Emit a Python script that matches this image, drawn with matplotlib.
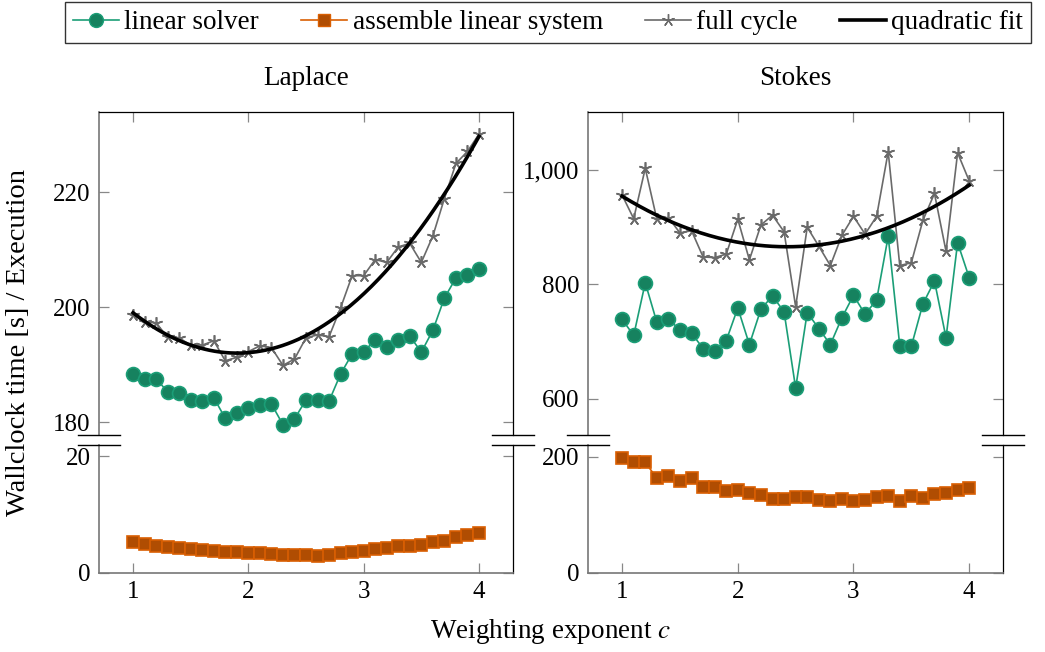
import matplotlib.pyplot as plt
import numpy as np
from matplotlib.lines import Line2D
from matplotlib.ticker import StrMethodFormatter

plt.rcParams['font.family'] = ['Liberation Serif', 'DejaVu Serif']
plt.rcParams['mathtext.fontset'] = 'stix'

# weighting exponent c
c = [1.0, 1.1, 1.2, 1.3, 1.4, 1.5, 1.6, 1.7, 1.8, 1.9, 2.0,
     2.1, 2.2, 2.3, 2.4, 2.5, 2.6, 2.7, 2.8, 2.9, 3.0,
     3.1, 3.2, 3.3, 3.4, 3.5, 3.6, 3.7, 3.8, 3.9, 4.0]

# Laplace
lap_solver = [188.4, 187.5, 187.6, 185.3, 185.1, 183.8, 183.7, 184.3, 180.7, 181.6, 182.5,
              183.1, 183.2, 179.6, 180.6, 183.9, 183.9, 183.7, 188.4, 191.9, 192.3,
              194.3, 193.1, 194.4, 195.0, 192.2, 196.0, 201.6, 205.1, 205.7, 206.7]
lap_assemble = [5.2, 4.9, 4.6, 4.4, 4.2, 4.0, 3.9, 3.8, 3.6, 3.5, 3.4,
                3.3, 3.2, 3.1, 3.0, 3.0, 2.9, 3.1, 3.4, 3.5, 3.8,
                4.0, 4.2, 4.6, 4.6, 4.8, 5.2, 5.5, 6.2, 6.4, 6.8]
lap_full = [198.7, 197.5, 197.3, 194.8, 194.7, 193.4, 193.4, 194.2, 190.7, 191.3, 192.3,
            193.3, 193.0, 189.9, 191.0, 194.7, 195.2, 194.9, 199.9, 205.5, 205.5,
            208.3, 207.8, 210.5, 211.1, 207.8, 212.4, 218.9, 225.0, 227.1, 230.1]

# Stokes
sto_solver = [739, 711, 803, 734, 740, 720, 715, 688, 684, 702, 759,
              695, 757, 780, 752, 619, 751, 723, 695, 742, 781,
              748, 773, 884, 693, 692, 766, 806, 707, 873, 812]
sto_assemble = [198, 191, 190, 163, 166, 158, 163, 148, 147, 141, 143,
                137, 133, 127, 127, 131, 130, 125, 124, 127, 123,
                125, 131, 132, 124, 132, 128, 135, 137, 143, 146]
sto_full = [956, 915, 1003, 914, 917, 890, 894, 848, 847, 853, 914,
            843, 904, 921, 892, 761, 900, 867, 833, 886, 919,
            888, 919, 1032, 833, 838, 912, 959, 858, 1030, 981]

GREEN, GREEN_D = '#1b9e77', '#16825f'
ORANGE, ORANGE_D = '#d95f02', '#b04d02'
GRAY = '#6a6a6a'
FS = 18      # tick labels
FT = 19.5    # titles, legend, axis labels
W, H = 1045, 652

fig = plt.figure(figsize=(W / 100, H / 100), dpi=100)


def fx(px):
    return px / W


def fy(py):
    return 1 - py / H


def style(ax, top, bottom):
    ax.set_xlim(0.705, 4.295)
    ax.set_xticks([1, 2, 3, 4])
    for s in ['left', 'bottom']:
        ax.spines[s].set_color('#777777')
        ax.spines[s].set_linewidth(1.2)
    for s in ['right', 'top']:
        ax.spines[s].set_color('black')
        ax.spines[s].set_linewidth(0.9)
    ax.spines['top'].set_visible(top)
    ax.spines['bottom'].set_visible(bottom)
    ax.tick_params(axis='both', direction='in', length=7, width=0.9,
                   color='#888888', labelsize=FS, right=True, top=top, bottom=bottom,
                   labelbottom=bottom, pad=6)
    for t in ax.yaxis.get_major_ticks():
        t.tick2line.set_color('#bbbbbb')
    ax.set_facecolor('none')


def panel(left_px, right_px, title, solver, assemble, full, ylim_up, yt_up, ylim_lo, yt_lo, fmt):
    x0, wd = fx(left_px), fx(right_px - left_px)
    up = fig.add_axes([x0, fy(435), wd, fy(112.3) - fy(435)])
    lo = fig.add_axes([x0, fy(572.7), wd, fy(445) - fy(572.7)])

    up.plot(c, full, color=GRAY, lw=1.2, marker=(5, 2, 0), ms=9, mew=1.2, zorder=3)
    up.plot(c, solver, color=GREEN, lw=1.2, marker='o', ms=10,
            mfc=GREEN_D, mec=GREEN, mew=1.2, zorder=3)
    coef = np.polyfit(c, full, 2)
    xs = np.linspace(c[0], c[-1], 200)
    up.plot(xs, np.polyval(coef, xs), color='black', lw=2.6, zorder=4)
    lo.plot(c, assemble, color=ORANGE, lw=1.2, marker='s', ms=8.5,
            mfc=ORANGE_D, mec=ORANGE, mew=1.2, zorder=3)

    up.set_ylim(*ylim_up)
    up.set_yticks(yt_up)
    lo.set_ylim(*ylim_lo)
    lo.set_yticks(yt_lo)
    if fmt:
        up.yaxis.set_major_formatter(StrMethodFormatter('{x:,.0f}'))
    style(up, True, False)
    style(lo, False, True)
    up.set_title(title, fontsize=FT, pad=20)

    # axis break marks
    for sx in (left_px, right_px):
        for by in (435, 445.3):
            fig.add_artist(Line2D([fx(sx - 21), fx(sx + 21)], [fy(by), fy(by)],
                                  color='black', lw=1.0))
    return up, lo


panel(99, 513, 'Laplace', lap_solver, lap_assemble, lap_full,
      (177.8, 233.9), [180, 200, 220], (0, 21.9), [0, 20], False)
panel(588, 1003.3, 'Stokes', sto_solver, sto_assemble, sto_full,
      (537, 1100.8), [600, 800, 1000], (0, 220), [0, 200], True)

fig.text(fx(19), fy(342), 'Wallclock time [s] / Execution', rotation=90,
         ha='center', va='center', fontsize=20.5)
fig.text(fx(551), fy(632), 'Weighting exponent $c$', ha='center', va='center',
         fontsize=FT)

handles = [
    Line2D([], [], color=GREEN, lw=1.2, marker='o', ms=10, mfc=GREEN_D, mec=GREEN),
    Line2D([], [], color=ORANGE, lw=1.2, marker='s', ms=9, mfc=ORANGE_D, mec=ORANGE),
    Line2D([], [], color=GRAY, lw=1.2, marker=(5, 2, 0), ms=9),
    Line2D([], [], color='black', lw=2.6),
]
labels = ['linear solver', 'assemble linear system', 'full cycle', 'quadratic fit']
leg = fig.legend(handles, labels, loc='upper center', bbox_to_anchor=(fx(548), fy(2)),
                 ncol=4, fontsize=FT, frameon=True, fancybox=False,
                 edgecolor='black', handlelength=1.7, handletextpad=0.2,
                 columnspacing=1.55, borderpad=0.3, borderaxespad=0)
leg.get_frame().set_linewidth(1.0)

fig.savefig('out.png', dpi=100)
